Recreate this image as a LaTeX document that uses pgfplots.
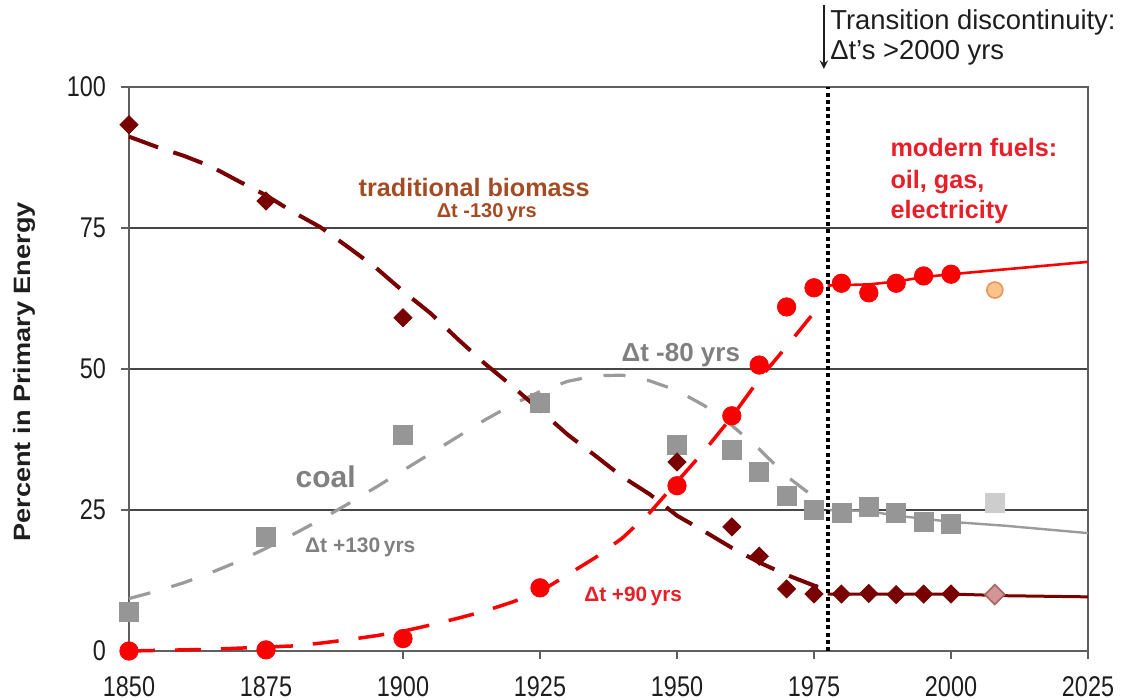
\documentclass[border=0pt]{standalone}
\usepackage{fontspec}
\setmainfont{Liberation Sans}
\usepackage{graphicx}
\usepackage{pgfplots}
\pgfplotsset{compat=1.18}
\definecolor{bio}{RGB}{120,0,0}
\definecolor{biolab}{RGB}{165,75,35}
\definecolor{coalc}{RGB}{150,150,150}
\definecolor{coalline}{RGB}{155,155,155}
\definecolor{coallab}{RGB}{128,128,128}
\definecolor{modern}{RGB}{250,0,0}
\definecolor{modernlab}{RGB}{232,30,40}
\definecolor{gridc}{RGB}{70,70,70}
\definecolor{axc}{RGB}{95,95,95}
\definecolor{txt}{RGB}{30,30,30}
\definecolor{lcirc}{RGB}{250,195,140}
\definecolor{lcircd}{RGB}{230,150,90}
\definecolor{ldiam}{RGB}{210,150,150}
\definecolor{ldiamd}{RGB}{170,100,100}
\definecolor{lsq}{RGB}{205,205,205}
\begin{document}
\begin{tikzpicture}
\useasboundingbox (-64.5pt,-24.5pt) rectangle (497pt,325.5pt);
\begin{axis}[
  at={(0,0)}, anchor=south west, scale only axis,
  width=479.5pt, height=282pt,
  xmin=1850, xmax=2025, ymin=0, ymax=100,
  xtick={1850,1875,...,2025}, ytick={0,25,50,75,100},
  ymajorgrids, grid style={line width=0.8pt, color=gridc},
  axis line style={line width=1pt, color=axc},
  tick style={line width=0.8pt, color=axc},
  tick align=outside, tick pos=left, major tick length=4pt,
  clip=false,
  /pgf/number format/assume math mode=true,
  /pgf/number format/1000 sep={},
  ticklabel style={font=\fontsize{11.7}{12}\selectfont, text=txt, yscale=1.22},
  xticklabel style={yshift=-3.5pt},
  yticklabel style={xshift=-4pt},
  ylabel={\scalebox{1.15}[1]{Percent in Primary Energy}},
  every axis y label/.style={at={(axis description cs:-0.1095,0.495)}, rotate=90, anchor=center,
     font=\bfseries\fontsize{11.8}{13}\selectfont, text=txt},
]
% --- fitted curves (dashed, before the discontinuity)
\addplot[coalline, line width=1.6pt, dash pattern=on 11pt off 11pt] coordinates {
(1850,9.3) (1855,10.6) (1860,12.1) (1865,13.9) (1870,15.9) (1875,18.2) (1880,20.7) (1885,23.3)
(1890,26.1) (1895,29.0) (1900,32.0) (1905,35.0) (1910,38.0) (1915,41.0) (1920,43.7) (1925,46.0)
(1930,47.8) (1935,48.8) (1940,48.9) (1945,47.9) (1950,46.2) (1955,43.5) (1960,40.0) (1965,35.8)
(1970,31.0) (1975,27.3) (1976,26.8)};
\addplot[bio, line width=2pt, dash pattern=on 15.5pt off 8pt] coordinates {
(1850,91.2) (1855,89.4) (1860,87.8) (1865,85.9) (1870,83.3) (1875,80.8) (1880,77.8) (1885,75.1)
(1890,71.6) (1895,68.0) (1900,63.8) (1905,59.9) (1910,55.3) (1915,50.9) (1920,46.9) (1925,42.7)
(1930,38.4) (1935,34.7) (1940,30.9) (1945,27.8) (1950,24.0) (1955,21.2) (1960,18.3) (1965,15.7)
(1970,13.5) (1975,11.6) (1976,11.3)};
\addplot[modern, line width=1.75pt, dash pattern=on 13pt off 10pt] coordinates {
(1850,0.0) (1855,0.1) (1860,0.2) (1865,0.3) (1870,0.5) (1875,0.7) (1880,0.9) (1885,1.4)
(1890,2.0) (1895,2.7) (1900,3.5) (1905,4.6) (1910,5.8) (1915,7.1) (1920,8.7) (1925,10.5)
(1930,13.5) (1935,16.5) (1940,20.0) (1945,24.5) (1950,30.0) (1955,35.5) (1960,41.5) (1965,48.2)
(1970,54.0) (1975,60.0) (1976.6,61.9)};
% --- solid trend lines after the discontinuity
\addplot[coalline, line width=1.2pt] coordinates {
(1977.5,25.0) (1985,24.8) (1990,24.0) (2000,22.9) (2010,22.2) (2025,20.9)};
\addplot[bio, line width=1.5pt] coordinates {
(1977.5,10.1) (2000,10.1) (2010,9.8) (2025,9.6)};
\addplot[modern, line width=1.3pt] coordinates {
(1977.5,64.8) (1985,65.0) (1990,65.5) (1995,66.3) (2000,66.8) (2025,69.0)};
% --- data points
\addplot[only marks, mark=square*, mark size=4.75pt, mark options={fill=coalc, draw=coalc}] coordinates {
(1850,6.9) (1875,20.2) (1900,38.3) (1925,44.0) (1950,36.5) (1960,35.6) (1965,31.7) (1970,27.5)
(1975,25.0) (1980,24.5) (1985,25.5) (1990,24.5) (1995,22.9) (2000,22.5)};
\addplot[only marks, mark=square*, mark size=4.75pt, mark options={fill=lsq, draw=lsq}] coordinates {
(2008,26.2)};
\addplot[only marks, mark=square*, mark size=3.2pt, mark options={rotate=45, fill=bio, draw=bio}] coordinates {
(1850,93.3) (1875,79.8) (1900,59.1) (1950,33.5) (1960,22.0) (1965,16.8) (1970,11.0) (1975,10.1)
(1980,10.1) (1985,10.2) (1990,10.0) (1995,10.1) (2000,10.1)};
\addplot[only marks, mark=square*, mark size=3.5pt, mark options={rotate=45, fill=ldiam, draw=ldiamd, line width=0.8pt}] coordinates {
(2008,10.0)};
\addplot[only marks, mark=*, mark size=4.6pt, mark options={fill=modern, draw=modern}] coordinates {
(1850,0.0) (1875,0.2) (1900,2.2) (1925,11.2) (1950,29.3) (1960,41.7) (1965,50.7) (1970,61.0)
(1975,64.4) (1980,65.2) (1985,63.5) (1990,65.2) (1995,66.5) (2000,66.8)};
\addplot[only marks, mark=*, mark size=4pt, mark options={fill=lcirc, draw=lcircd, line width=0.8pt}] coordinates {
(2008,64.0)};
% --- transition line
\draw[black, line width=2pt, dash pattern=on 2pt off 1.6pt] (axis cs:1977.5,0) -- (axis cs:1977.5,100);
\draw[txt, line width=0.9pt, -stealth] (axis cs:1976.8,114.5) -- (axis cs:1976.8,103.2);
\node[anchor=west, inner sep=0pt, font=\fontsize{13.7}{16}\selectfont, text=txt] at (axis cs:1977.9,111.4) {Transition discontinuity:};
\node[anchor=west, inner sep=0pt, font=\fontsize{13.7}{16}\selectfont, text=txt] at (axis cs:1977.9,106.0) {Δt’s >2000 yrs};
% --- labels
\node[font=\bfseries\fontsize{12.6}{14}\selectfont, text=biolab] at (axis cs:1913,82.1) {traditional biomass};
\node[font=\bfseries\fontsize{10}{12}\selectfont, text=biolab] at (axis cs:1915.3,77.7) {Δt -130\,yrs};
\node[anchor=base west, inner sep=0pt, font=\bfseries\fontsize{12.6}{14}\selectfont, text=modernlab] at (axis cs:1988.9,87.6) {modern fuels:};
\node[anchor=base west, inner sep=0pt, font=\bfseries\fontsize{12.6}{14}\selectfont, text=modernlab] at (axis cs:1988.9,82.0) {oil, gas,};
\node[anchor=base west, inner sep=0pt, font=\bfseries\fontsize{12.6}{14}\selectfont, text=modernlab] at (axis cs:1988.9,76.6) {electricity};
\node[font=\bfseries\fontsize{13}{15}\selectfont, text=coallab] at (axis cs:1950.7,52.5) {Δt -80 yrs};
\node[font=\bfseries\fontsize{15}{17}\selectfont, text=coallab] at (axis cs:1885.9,30.9) {coal};
\node[font=\bfseries\fontsize{10.5}{12}\selectfont, text=coallab] at (axis cs:1892.2,18.4) {Δt +130\,yrs};
\node[font=\bfseries\fontsize{10.4}{12}\selectfont, text=modernlab] at (axis cs:1942,9.6) {Δt +90\,yrs};
\end{axis}
\end{tikzpicture}
\end{document}
